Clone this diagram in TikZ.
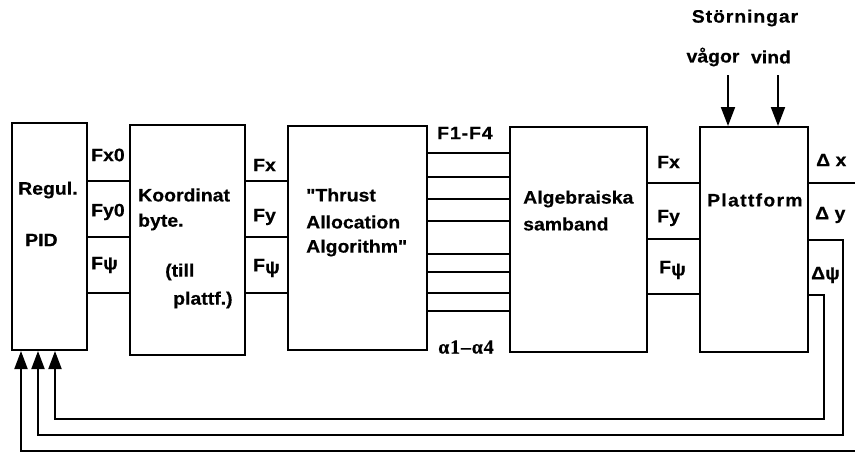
\documentclass[tikz,border=0pt]{standalone}
\usepackage{fontspec}
\setmainfont{Liberation Sans}[FakeStretch=1.08, Ligatures=TeXOff, BoldFeatures={FakeBold=0.5}]
\newfontfamily\alphafont{Liberation Serif}[BoldFeatures={FakeBold=0.3}]
\usetikzlibrary{arrows.meta,positioning}

\begin{document}
\begin{tikzpicture}[x=1pt, y=-1pt,
  % block outlines, sized per block
  blk/.style={draw, line width=2pt, inner sep=0pt},
  sig/.style={line width=2pt},
  fb/.style={line width=2pt, -{Triangle[length=18pt, width=13pt]}},
  dist/.style={line width=2pt, -{Triangle[length=19pt, width=14pt]}},
  lbl/.style={font=\fontsize{18}{21}\selectfont\bfseries, inner sep=0pt, anchor=west},
  wide/.style={font=\fontsize{18}{21}\selectfont\bfseries\addfontfeature{LetterSpace=#1}},
]
\useasboundingbox (0,0) rectangle (855,455);

% blocks
\node[blk, minimum width=75pt,  minimum height=227pt] (pid)    at (49.5,236.5) {};
\node[blk, minimum width=115pt, minimum height=230pt] (koord)  at (187.5,240) {};
\node[blk, minimum width=139pt, minimum height=224pt] (thrust) at (357.5,238) {};
\node[blk, minimum width=137pt, minimum height=225pt] (alg)    at (578.5,239.5) {};
\node[blk, minimum width=108pt, minimum height=225pt] (plat)   at (754,239.5) {};

% block texts
\node[lbl] (regul) at (18,190) {Regul.};
\node[lbl] (pidt)  at (25,240) {PID};
\node[lbl] (ko1) at (138,195) {Koordinat};
\node[lbl] (ko2) at (138,222) {byte.};
\node[lbl] (ko3) at (165,272) {(till};
\node[lbl] (ko4) at (173,300) {plattf.)};
\node[lbl] (th1) at (306,195) {"Thrust};
\node[lbl] (th2) at (306,222) {Allocation};
\node[lbl] (th3) at (306,248) {Algorithm"};
\node[lbl] (al1) at (523,199) {Algebraiska};
\node[lbl] (al2) at (523,224) {samband};
\node[lbl, wide=7] (plt) at (707,200) {Plattform};

% signals PID -> Koordinat -> Thrust
\foreach \y in {181,237,293} {
  \draw[sig] (pid.east |- 0,\y) -- (koord.west |- 0,\y);
  \draw[sig] (koord.east |- 0,\y) -- (thrust.west |- 0,\y);
}
\node[lbl] (fx0) at (91,155) {Fx0};
\node[lbl] (fy0) at (91,212) {Fy0};
\node[lbl] (fp0) at (91,265) {Fψ};
\node[lbl] (fx1) at (253,165) {Fx};
\node[lbl] (fy1) at (253,217) {Fy};
\node[lbl] (fp1) at (253,268) {F\raisebox{-2pt}{ψ}};

% thruster forces and angles
\foreach \y in {153,177,199,221,254,272,293,311}
  \draw[sig] (thrust.east |- 0,\y) -- (alg.west |- 0,\y);
\node[lbl, wide=5] (f14) at (437,133) {F1-F4};
\node[lbl, font=\fontsize{20}{22}\selectfont\alphafont\bfseries\addfontfeature{LetterSpace=4}] (a14) at (438,347) {α1–α4};

% Algebraiska -> Plattform
\foreach \y in {183,239,294}
  \draw[sig] (alg.east |- 0,\y) -- (plat.west |- 0,\y);
\node[lbl] (fx2) at (657,162) {Fx};
\node[lbl] (fy2) at (657,218) {Fy};
\node[lbl] (fp2) at (659,270) {F\raisebox{-2pt}{ψ}};

% disturbances
\node[lbl, wide=5, anchor=center] (storn) at (745,18) {Störningar};
\node[lbl, anchor=center] (vagor) at (713,57) {vågor};
\node[lbl, anchor=center] (vind)  at (771,57) {vind};
\coordinate (wv) at (728,75);
\coordinate (wi) at (778,75);
\draw[dist] (wv) -- (wv |- plat.north);
\draw[dist] (wi) -- (wi |- plat.north);

% feedback
\node[lbl] (dx) at (816,160) {Δ x};
\node[lbl] (dy) at (815,215) {Δ y};
\node[lbl] (dp) at (811,275) {Δψ};
\draw[fb] (plat.east |- 0,183) -| (857,451) -| (pid.south -| 21,0);
\draw[fb] (plat.east |- 0,240) -| (843,435) -| (pid.south -| 38,0);
\draw[fb] (plat.east |- 0,295) -| (824,419) -| (pid.south -| 55,0);
\end{tikzpicture}
\end{document}
